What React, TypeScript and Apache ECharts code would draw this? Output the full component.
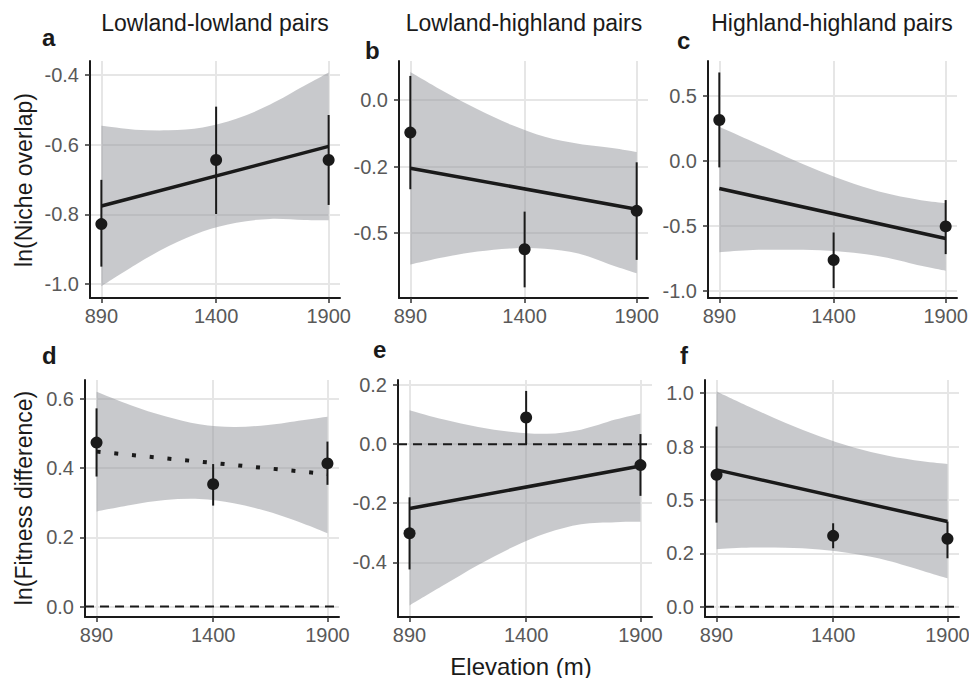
import React, { useEffect, useRef } from 'react';
import * as echarts from 'echarts';

// ---------- data ----------
const elevations = [890, 1400, 1900];
const xTicks = [890, 1400, 1900];
const xMin = 839.5;
const xMax = 1950.5;
const ribbonX = [890, 1040, 1190, 1340, 1490, 1640, 1790, 1900];

const panelTitles = ['Lowland-lowland pairs', 'Lowland-highland pairs', 'Highland-highland pairs'];
const panelLetters = ['a', 'b', 'c', 'd', 'e', 'f'];
const yTitles = ['ln(Niche overlap)', 'ln(Fitness difference)'];
const xTitle = 'Elevation (m)';

// a
const aPoints = [-0.828, -0.644, -0.644];
const aErrLo = [-0.95, -0.799, -0.773];
const aErrHi = [-0.701, -0.491, -0.515];
const aFit = [-0.776, -0.605];
const aRibLo = [-1.006, -0.945, -0.891, -0.849, -0.824, -0.813, -0.816, -0.817];
const aRibUp = [-0.546, -0.557, -0.559, -0.551, -0.526, -0.485, -0.432, -0.393];
const aTicks = [-1.0, -0.8, -0.6, -0.4];
const aTickLabels = ['-1.0', '-0.8', '-0.6', '-0.4'];
const aRange = [-1.04, -0.36];

// b
const bPoints = [-0.1225, -0.56, -0.416];
const bErrLo = [-0.335, -0.703, -0.6];
const bErrHi = [0.09, -0.419, -0.234];
const bFit = [-0.256, -0.41];
const bRibLo = [-0.617, -0.59, -0.569, -0.557, -0.558, -0.576, -0.62, -0.65];
const bRibUp = [0.105, 0.032, -0.035, -0.093, -0.138, -0.164, -0.18, -0.195];
const bTicks = [-0.5, -0.25, 0];
const bTickLabels = ['-0.5', '-0.2', '0.0'];
const bRange = [-0.743, 0.146];

// c
const cPoints = [0.3125, -0.763, -0.504];
const cErrLo = [-0.051, -0.978, -0.717];
const cErrHi = [0.678, -0.551, -0.302];
const cFit = [-0.213, -0.597];
const cRibLo = [-0.702, -0.686, -0.683, -0.687, -0.706, -0.744, -0.807, -0.845];
const cRibUp = [0.262, 0.146, 0.029, -0.081, -0.176, -0.252, -0.303, -0.325];
const cTicks = [-1.0, -0.5, 0, 0.5];
const cTickLabels = ['-1.0', '-0.5', '0.0', '0.5'];
const cRange = [-1.054, 0.766];

// d
const dPoints = [0.474, 0.354, 0.414];
const dErrLo = [0.376, 0.292, 0.352];
const dErrHi = [0.573, 0.412, 0.477];
const dFit = [0.448, 0.383];
const dRibLo = [0.275, 0.294, 0.308, 0.311, 0.299, 0.275, 0.241, 0.212];
const dRibUp = [0.621, 0.582, 0.55, 0.527, 0.519, 0.525, 0.539, 0.549];
const dTicks = [0, 0.2, 0.4, 0.6];
const dTickLabels = ['0.0', '0.2', '0.4', '0.6'];
const dRange = [-0.03, 0.655];

// e
const ePoints = [-0.302, 0.09, -0.071];
const eErrLo = [-0.424, 0.0, -0.175];
const eErrHi = [-0.18, 0.18, 0.034];
const eFit = [-0.218, -0.074];
const eRibLo = [-0.546, -0.477, -0.409, -0.349, -0.301, -0.271, -0.264, -0.263];
const eRibUp = [0.115, 0.083, 0.058, 0.041, 0.035, 0.049, 0.083, 0.104];
const eTicks = [-0.4, -0.2, 0, 0.2];
const eTickLabels = ['-0.4', '-0.2', '0.0', '0.2'];
const eRange = [-0.585, 0.217];

// f
const fPoints = [0.618, 0.332, 0.318];
const fErrLo = [0.394, 0.274, 0.227];
const fErrHi = [0.844, 0.391, 0.399];
const fFit = [0.641, 0.399];
const fRibLo = [0.269, 0.277, 0.276, 0.268, 0.248, 0.216, 0.169, 0.133];
const fRibUp = [1.008, 0.933, 0.862, 0.798, 0.746, 0.707, 0.681, 0.668];
const fTicks = [0, 0.25, 0.5, 0.75, 1.0];
const fTickLabels = ['0.0', '0.2', '0.5', '0.8', '1.0'];
const fRange = [-0.048, 1.062];

const zeroLinePanels = [false, false, false, true, true, true];
const dottedFitPanels = [false, false, false, true, false, false];

// ---------- layout ----------
const gridBoxes = [
  { left: 90, top: 61, width: 250, height: 237 },
  { left: 399, top: 61, width: 249, height: 237 },
  { left: 708, top: 61, width: 249, height: 237 },
  { left: 85, top: 380, width: 254, height: 237 },
  { left: 398, top: 380, width: 254, height: 237 },
  { left: 705, top: 380, width: 254, height: 237 },
];
const titleCenters = [215, 524, 832];
const letterPos = [
  [42, 37], [365, 50], [677, 40], [42, 355], [373, 349], [680, 355],
];

const FONT = "'Liberation Sans', Arial, Helvetica, sans-serif";
const INK = '#1a1a1a';
const TICK_TXT = '#595959';
const GRID = '#e6e6e6';
const RIBBON = 'rgba(151,153,159,0.53)';

const panels = [
  { pts: aPoints, lo: aErrLo, hi: aErrHi, fit: aFit, rLo: aRibLo, rUp: aRibUp, ticks: aTicks, labels: aTickLabels, range: aRange },
  { pts: bPoints, lo: bErrLo, hi: bErrHi, fit: bFit, rLo: bRibLo, rUp: bRibUp, ticks: bTicks, labels: bTickLabels, range: bRange },
  { pts: cPoints, lo: cErrLo, hi: cErrHi, fit: cFit, rLo: cRibLo, rUp: cRibUp, ticks: cTicks, labels: cTickLabels, range: cRange },
  { pts: dPoints, lo: dErrLo, hi: dErrHi, fit: dFit, rLo: dRibLo, rUp: dRibUp, ticks: dTicks, labels: dTickLabels, range: dRange },
  { pts: ePoints, lo: eErrLo, hi: eErrHi, fit: eFit, rLo: eRibLo, rUp: eRibUp, ticks: eTicks, labels: eTickLabels, range: eRange },
  { pts: fPoints, lo: fErrLo, hi: fErrHi, fit: fFit, rLo: fRibLo, rUp: fRibUp, ticks: fTicks, labels: fTickLabels, range: fRange },
];

// Catmull-Rom smoothing of screen points into cubic bezier path commands
function smoothSegments(pts: number[][]): string {
  let d = '';
  const n = pts.length;
  for (let i = 0; i < n - 1; i++) {
    const p0 = pts[Math.max(0, i - 1)];
    const p1 = pts[i];
    const p2 = pts[i + 1];
    const p3 = pts[Math.min(n - 1, i + 2)];
    const c1x = p1[0] + (p2[0] - p0[0]) / 6;
    const c1y = p1[1] + (p2[1] - p0[1]) / 6;
    const c2x = p2[0] - (p3[0] - p1[0]) / 6;
    const c2y = p2[1] - (p3[1] - p1[1]) / 6;
    d += ` C ${c1x} ${c1y} ${c2x} ${c2y} ${p2[0]} ${p2[1]}`;
  }
  return d;
}

function buildOption() {
  const grid = gridBoxes.map((g) => ({ ...g, containLabel: false, outerBoundsMode: 'none' }));
  const xAxis = panels.map((_, i) => ({
    type: 'value',
    gridIndex: i,
    min: xMin,
    max: xMax,
    axisLine: { show: true, onZero: false, lineStyle: { color: INK, width: 2 } },
    axisTick: { show: true, customValues: xTicks, length: 5, lineStyle: { color: '#333', width: 1.5 } },
    axisLabel: {
      customValues: xTicks,
      fontSize: 20,
      fontFamily: FONT,
      color: TICK_TXT,
      margin: 8,
      formatter: (v: number) => String(v),
    },
    splitLine: { show: true, lineStyle: { color: GRID, width: 2 } },
  }));
  const yAxis = panels.map((p, i) => ({
    type: 'value',
    gridIndex: i,
    min: p.range[0],
    max: p.range[1],
    axisLine: { show: true, onZero: false, lineStyle: { color: INK, width: 2 } },
    axisTick: { show: true, customValues: p.ticks, length: 5, lineStyle: { color: '#333', width: 1.5 } },
    axisLabel: {
      customValues: p.ticks,
      fontSize: 20,
      fontFamily: FONT,
      color: TICK_TXT,
      margin: 11,
      formatter: (v: number) => {
        const k = p.ticks.findIndex((t) => Math.abs(t - v) < 1e-9);
        return k >= 0 ? p.labels[k] : '';
      },
    },
    splitLine: { show: true, lineStyle: { color: GRID, width: 2 } },
  }));

  const series: any[] = [];
  panels.forEach((p, i) => {
    const ax = { xAxisIndex: i, yAxisIndex: i };
    if (zeroLinePanels[i]) {
      series.push({
        ...ax,
        type: 'line',
        data: [[xMin, 0], [xMax, 0]],
        symbol: 'none',
        silent: true,
        lineStyle: { color: INK, width: 2, type: [9, 6] },
      });
    }
    // confidence ribbon
    series.push({
      ...ax,
      type: 'custom',
      silent: true,
      data: ribbonX.map((x, k) => [x, p.rLo[k], p.rUp[k]]),
      encode: { x: 0, y: [1, 2] },
      renderItem: (params: any, api: any) => {
        if (params.dataIndexInside !== 0) return null;
        const n = params.dataInsideLength;
        const up: number[][] = [];
        const lo: number[][] = [];
        for (let k = 0; k < n; k++) {
          const x = api.value(0, k);
          up.push(api.coord([x, api.value(2, k)]));
          lo.push(api.coord([x, api.value(1, k)]));
        }
        lo.reverse();
        let d = `M ${up[0][0]} ${up[0][1]}` + smoothSegments(up);
        d += ` L ${lo[0][0]} ${lo[0][1]}` + smoothSegments(lo) + ' Z';
        return {
          type: 'path',
          shape: { pathData: d },
          style: { fill: RIBBON, stroke: 'none' },
        };
      },
    });
    series.push({
      ...ax,
      type: 'line',
      data: [[elevations[0], p.fit[0]], [elevations[2], p.fit[1]]],
      symbol: 'none',
      silent: true,
      lineStyle: dottedFitPanels[i]
        ? { color: INK, width: 4, type: [4, 13.8], cap: 'butt' }
        : { color: INK, width: 3.5 },
    });
    series.push({
      ...ax,
      type: 'custom',
      data: elevations.map((x, k) => [x, p.lo[k], p.hi[k]]),
      encode: { x: 0, y: [1, 2] },
      silent: true,
      renderItem: (_params: any, api: any) => {
        const a = api.coord([api.value(0), api.value(1)]);
        const b = api.coord([api.value(0), api.value(2)]);
        return {
          type: 'line',
          shape: { x1: a[0], y1: a[1], x2: b[0], y2: b[1] },
          style: { stroke: INK, lineWidth: 2 },
        };
      },
    });
    series.push({
      ...ax,
      type: 'scatter',
      data: elevations.map((x, k) => [x, p.pts[k]]),
      symbol: 'circle',
      symbolSize: 12,
      silent: true,
      itemStyle: { color: INK, opacity: 1 },
    });
  });

  const graphic: any[] = [];
  panelTitles.forEach((t, i) => {
    graphic.push({
      type: 'text',
      x: titleCenters[i],
      y: 23,
      style: { text: t, fontSize: 23, fontFamily: FONT, fill: INK, align: 'center', verticalAlign: 'middle', textAlign: 'center', textVerticalAlign: 'middle' },
    });
  });
  panelLetters.forEach((t, i) => {
    graphic.push({
      type: 'text',
      x: letterPos[i][0],
      y: letterPos[i][1],
      style: { text: t, fontSize: 24, fontWeight: 'bold', fontFamily: FONT, fill: INK, align: 'left', verticalAlign: 'middle', textAlign: 'left', textVerticalAlign: 'middle' },
    });
  });
  graphic.push({
    type: 'text',
    x: 24,
    y: 180,
    rotation: Math.PI / 2,
    style: { text: yTitles[0], fontSize: 23, fontFamily: FONT, fill: INK, align: 'center', verticalAlign: 'middle', textAlign: 'center', textVerticalAlign: 'middle' },
  });
  graphic.push({
    type: 'text',
    x: 24,
    y: 498,
    rotation: Math.PI / 2,
    style: { text: yTitles[1], fontSize: 23, fontFamily: FONT, fill: INK, align: 'center', verticalAlign: 'middle', textAlign: 'center', textVerticalAlign: 'middle' },
  });
  graphic.push({
    type: 'text',
    x: 521,
    y: 666,
    style: { text: xTitle, fontSize: 24, fontFamily: FONT, fill: INK, align: 'center', verticalAlign: 'middle', textAlign: 'center', textVerticalAlign: 'middle' },
  });

  return {
    animation: false,
    backgroundColor: '#ffffff',
    grid,
    xAxis,
    yAxis,
    series,
    graphic,
  };
}

export default function App() {
  const ref = useRef<HTMLDivElement>(null);
  useEffect(() => {
    if (!ref.current) return;
    const chart = echarts.init(ref.current, null, { renderer: 'svg' });
    chart.setOption(buildOption() as any);
    return () => chart.dispose();
  }, []);
  return (
    <div
      ref={ref}
      style={{ position: 'fixed', left: 0, top: 0, width: 969, height: 678, background: '#fff' }}
    />
  );
}
